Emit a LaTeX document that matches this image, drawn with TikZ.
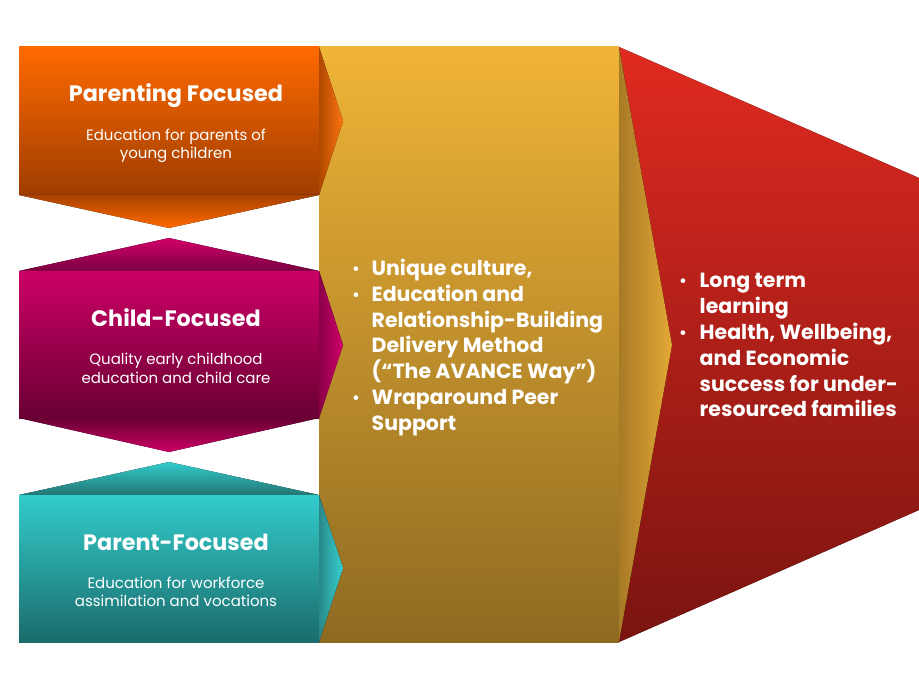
\documentclass[tikz,border=0pt]{standalone}
\usepackage{fontspec}
\setmainfont{Poppins}
\definecolor{orT}{HTML}{FF6A00}
\definecolor{orB}{HTML}{9E3D00}
\definecolor{orD}{HTML}{A94200}
\definecolor{orL}{HTML}{B04800}
\definecolor{orR}{HTML}{FF7410}
\definecolor{mgT}{HTML}{CC0066}
\definecolor{mgB}{HTML}{690033}
\definecolor{mgD}{HTML}{7A0040}
\definecolor{mgL}{HTML}{8A0048}
\definecolor{mgR}{HTML}{D2006A}
\definecolor{tlT}{HTML}{33CCCC}
\definecolor{tlB}{HTML}{1B6B6B}
\definecolor{tlD}{HTML}{237575}
\definecolor{tlL}{HTML}{2A8888}
\definecolor{tlR}{HTML}{36D2D2}
\definecolor{gdT}{HTML}{F0B437}
\definecolor{gdB}{HTML}{8E6A21}
\definecolor{gdL}{HTML}{A77A26}
\definecolor{gdR}{HTML}{E5A935}
\definecolor{rdT}{HTML}{E02A20}
\definecolor{rdB}{HTML}{7A1410}
\tikzset{
  ttl/.style={text=white, font=\bfseries\fontsize{22.3}{26}\selectfont, anchor=base, inner sep=0pt},
  sub/.style={text=white, font=\fontsize{15}{18}\selectfont, anchor=base, inner sep=0pt},
  lst/.style={text=white, font=\bfseries\fontsize{20.5}{24}\selectfont, anchor=base west, inner sep=0pt},
  bul/.style={text=white, font=\fontsize{19}{22}\selectfont, anchor=base, inner sep=0pt}
}
\begin{document}
\begin{tikzpicture}[x=1pt,y=-1pt]
\useasboundingbox (0,0) rectangle (919,690);
% red outcome shape
\fill[top color=rdT, bottom color=rdB] (619,47) -- (919,178) -- (919,510) -- (619,642) -- cycle;
% gold middle column
\fill[top color=gdT, bottom color=gdB] (319,47) rectangle (619,642);
\fill[left color=gdL, right color=gdR] (619,47) -- (672,345) -- (619,642) -- cycle;
% orange box
\fill[top color=orT, bottom color=orB] (19,47) rectangle (319,195);
\fill[top color=orD, bottom color=orT] (19,195) -- (319,195) -- (169,228) -- cycle;
\fill[left color=orL, right color=orR] (319,47) -- (343,121) -- (319,195) -- cycle;
% magenta box
\fill[top color=mgR, bottom color=mgD] (19,271) -- (169,238) -- (319,271) -- cycle;
\fill[top color=mgT, bottom color=mgB] (19,271) rectangle (319,418);
\fill[top color=mgB, bottom color=mgT] (19,418) -- (319,418) -- (169,452) -- cycle;
\fill[left color=mgL, right color=mgR] (319,271) -- (343,345) -- (319,418) -- cycle;
% teal box
\fill[top color=tlT, bottom color=tlD] (19,495) -- (169,462) -- (319,495) -- cycle;
\fill[top color=tlT, bottom color=tlB] (19,495) rectangle (319,642);
\fill[left color=tlL, right color=tlR] (319,495) -- (343,568) -- (319,642) -- cycle;
% left box texts
\node[ttl] (t1) at (176,102) {Parenting Focused};
\node[sub] (s1a) at (176,140.5) {Education for parents of};
\node[sub] (s1b) at (176,159) {young children};
\node[ttl] (t2) at (176,326) {Child-Focused};
\node[sub] (s2a) at (176,364.5) {Quality early childhood};
\node[sub] (s2b) at (176,383) {education and child care};
\node[ttl] (t3) at (176,550) {Parent-Focused};
\node[sub] (s3a) at (176,588) {Education for workforce};
\node[sub] (s3b) at (176,606.5) {assimilation and vocations};
% middle list
\foreach \yy/\tt [count=\i] in {275/{Unique culture,}, 301/{Education and}, 327/{Relationship-Building}, 352.5/{Delivery Method}, 378/{(“The AVANCE Way”)}, 404/{Wraparound Peer}, 430/{Support}}
  \node[lst] (m\i) at (371.5,\yy) {\tt};
\foreach \yy [count=\i] in {275,301,404}
  \node[bul] (mb\i) at (356,\yy) {•};
% right list
\foreach \yy/\tt [count=\i] in {287.7/{Long term}, 313.3/{learning}, 339/{Health, Wellbeing,}, 365/{and Economic}, 391/{success for under-}, 416.5/{resourced families}}
  \node[lst] (r\i) at (699.5,\yy) {\tt};
\foreach \yy [count=\i] in {287.7,339}
  \node[bul] (rb\i) at (683,\yy) {•};
\end{tikzpicture}
\end{document}
